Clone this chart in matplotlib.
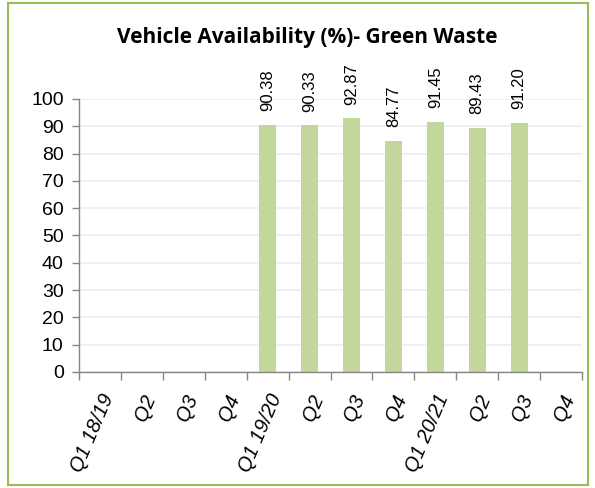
import numpy as np
import matplotlib
matplotlib.use('Agg')
import matplotlib.pyplot as plt
from matplotlib.patches import Rectangle

# =============================================================================
# DATA
# =============================================================================

quarters = ['Q1 18/19', 'Q2', 'Q3', 'Q4',
            'Q1 19/20', 'Q2', 'Q3', 'Q4',
            'Q1 20/21', 'Q2', 'Q3', 'Q4']
availability = [None, None, None, None,
                90.38, 90.33, 92.87, 84.77,
                91.45, 89.43, 91.20, None]
y_ticks = list(range(0, 101, 10))

BAR_COLOR = '#C3D69B'
AXIS_COLOR = '#868686'
GRID_COLOR = '#EEEEEE'
BORDER_COLOR = '#9BBB59'

# =============================================================================
# PLOTTING
# =============================================================================

fig = plt.figure(figsize=(5.95, 4.88), dpi=100)
ax = fig.add_axes([79 / 595, 1 - 372 / 488, (582 - 79) / 595, (372 - 99) / 488])

# outer chart border
fig.patches.append(Rectangle((8 / 595, 3 / 488), 580 / 595, 482 / 488,
                             transform=fig.transFigure, fill=False,
                             edgecolor=BORDER_COLOR, linewidth=1.5))

x = np.arange(len(quarters))
vals = [v if v is not None else 0 for v in availability]
bars = ax.bar(x, vals, width=0.4, color=BAR_COLOR, zorder=2)

for xi, v in zip(x, availability):
    if v is None:
        continue
    ax.annotate(f'{v:.2f}', (xi, v), xytext=(0, 10), textcoords='offset points',
                rotation=90, ha='center', va='bottom', fontsize=12,
                family='Liberation Sans', annotation_clip=False)

ax.set_xlim(-0.5, len(quarters) - 0.5)
ax.set_ylim(0, 100)
ax.set_yticks(y_ticks)
ax.yaxis.grid(True, color=GRID_COLOR, linewidth=1.2, zorder=0)
ax.set_axisbelow(True)

ax.set_xticks(x)
ax.set_xticklabels(quarters, rotation=67, ha='right', va='top',
                   rotation_mode='anchor', fontsize=14.5, style='italic',
                   family='Liberation Sans')
ax.set_xticks(np.arange(-0.5, len(quarters)), minor=True)
ax.tick_params(axis='x', which='major', length=0, pad=14)
ax.tick_params(axis='x', which='minor', length=6, color=AXIS_COLOR, width=1)
ax.tick_params(axis='y', length=5, color=AXIS_COLOR, width=1, labelsize=14, pad=6)
for lab in ax.get_yticklabels():
    lab.set_family('Liberation Sans')

for side in ['top', 'right']:
    ax.spines[side].set_visible(False)
for side in ['left', 'bottom']:
    ax.spines[side].set_color(AXIS_COLOR)
    ax.spines[side].set_linewidth(1)

fig.text(307 / 595, 1 - 37 / 488, 'Vehicle Availability (%)- Green Waste',
         ha='center', va='center', fontsize=15, fontweight='bold',
         family='Open Sans')

fig.savefig('out.png', dpi=100)
